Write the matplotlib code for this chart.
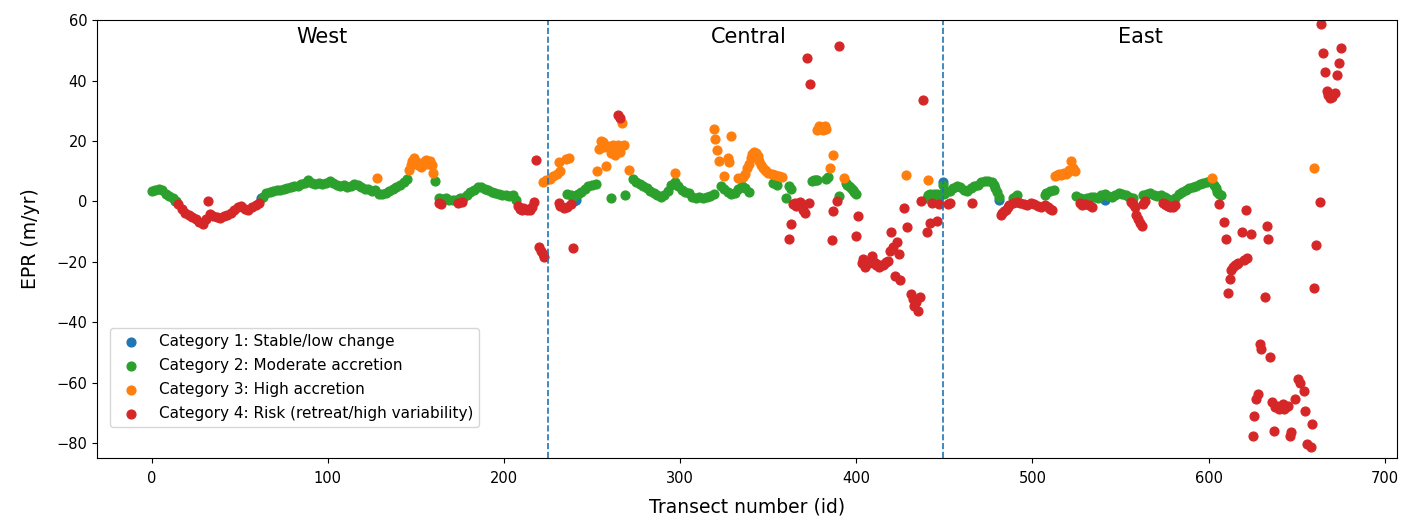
import numpy as np
import matplotlib
matplotlib.use("Agg")
import matplotlib.pyplot as plt

# EPR per transect, stored as runs: (first id, id step, values)
cat1_runs = [
    (13, 1, [0.0]), (62, 1, [1.0]), (240, 1, [0.0, 0.5]),
    (449, 1, [6.3]), (481, 1, [0.5]), (541, 1, [0.3]),
]

cat2_runs = [
    (0, 2, [3.4, 3.7, 4.0, 3.6, 2.6, 1.8, 1.0, 0.2]),
    (63, 2, [1.5, 2.8, 3.0, 3.3, 3.6, 3.8, 4.2, 4.5, 4.8, 5.2,
             5.0, 5.6, 6.2, 7.0, 6.2, 5.8, 6.0, 5.6, 6.2, 6.6,
             6.0, 5.4, 5.0, 5.4, 4.6, 5.0, 5.8, 5.4, 4.8, 4.2,
             4.0, 3.5, 3.6, 2.6, 2.4, 2.8, 3.4, 4.0, 4.6, 5.4,
             6.4, 7.4]),
    (161, 1, [6.6]),
    (163, 2, [1.0, 0.8, 1.2, 0.6, 0.3, 0.6, 1.0, 1.2, 2.0, 3.0,
              3.8, 4.8, 4.6, 4.0, 3.6, 3.2, 2.8, 2.4, 2.2, 2.0,
              1.8, 2.0, 0.6]),
    (236, 2, [2.5, 2.2, 1.8, 2.5, 3.2, 4.0, 5.0, 5.5, 5.8]),
    (261, 1, [1.0]), (269, 1, [2.0]),
    (273, 2, [7.5, 6.5, 5.8, 5.0, 4.3, 3.5, 2.8, 2.0, 1.6, 2.0,
              3.5, 5.5, 6.5, 5.0, 3.8, 3.0, 2.8, 1.6, 1.2, 1.6,
              1.0, 1.5, 1.7, 2.5]),
    (323, 2, [5.0, 4.0, 3.0, 2.5, 2.8, 4.0, 5.0, 4.5, 3.0]),
    (353, 2, [6.0, 5.5]),
    (360, 1, [1.2]), (362, 1, [5.0, 4.0]),
    (375, 1, [6.8, 7.2, 7.0, 7.0]),
    (383, 1, [7.5, 8.0]),
    (390, 1, [1.8]),
    (394, 1, [6.0, 5.5, 5.0, 4.5, 3.8, 3.0, 2.5]),
    (440, 1, [1.0, 2.0, 2.3, 1.5, 2.5, 2.0, 2.6, 1.8]),
    (448, 1, [2.5, 5.5, 2.5, 3.0]),
    (453, 2, [3.5, 4.5, 5.2, 4.8, 3.8, 3.3, 4.5, 5.0, 5.5, 6.3,
              6.8, 6.8, 6.5]),
    (478, 1, [5.5, 4.5, 3.0, 1.5]),
    (489, 1, [1.0, 1.5, 2.0]),
    (507, 1, [2.2, 2.8]),
    (510, 2, [3.3, 3.8]),
    (525, 2, [1.8, 1.2, 0.8, 1.0, 1.5, 1.6, 1.2, 2.0, 2.6, 1.8,
              1.4, 2.2, 2.8, 2.4, 2.0, 1.5, 1.0]),
    (563, 2, [2.0, 2.6, 2.8, 2.2, 1.8, 2.2, 1.6, 0.8]),
    (581, 2, [1.0, 2.4, 3.2, 3.8, 4.3, 4.8, 5.2, 5.6, 6.2, 6.5, 6.8]),
    (603, 1, [5.5, 4.5, 3.0, 2.5, 2.2]),
]

cat3_runs = [
    (128, 1, [7.8]),
    (146, 1, [10.5, 12.0, 13.5, 14.3, 13.0, 12.0, 12.6, 11.5, 12.2, 13.5,
              13.8, 12.5, 13.5, 12.0, 9.5]),
    (222, 2, [6.5, 7.0, 7.5, 8.3, 9.0]),
    (231, 1, [13.0, 10.0]), (235, 1, [14.0]), (237, 1, [14.2]),
    (253, 1, [10.0, 17.5, 20.0, 19.5, 18.0, 11.7, 18.3]),
    (261, 1, [16.0, 18.7, 15.5, 17.0, 18.7, 16.5, 26.0, 18.5]),
    (271, 1, [10.3]), (297, 1, [9.3]),
    (319, 1, [24.0, 20.5, 17.0, 13.5]),
    (325, 1, [8.3]), (327, 1, [14.3, 13.0, 21.8]),
    (333, 1, [7.8]), (336, 1, [8.0]),
    (337, 1, [9.0, 11.0, 12.5, 14.5, 15.8, 16.5, 16.0, 15.0, 13.5, 12.0,
              11.0, 10.5, 10.0, 9.5]),
    (352, 2, [9.2, 8.8, 8.5, 8.2]),
    (378, 1, [23.5, 25.0, 24.5, 23.5, 24.8, 23.8]),
    (385, 1, [11.0]), (387, 1, [15.5]), (393, 1, [7.8]),
    (428, 1, [8.8]), (441, 1, [7.0]),
    (513, 1, [8.5, 8.8, 9.0, 8.8, 9.2, 9.5, 9.0, 9.8, 10.5, 13.5, 11.0, 10.2]),
    (602, 1, [7.8]),
    (660, 1, [11.0]),
]

cat4_runs = [
    (15, 2, [-1.0, -2.5, -3.8, -4.6, -5.2, -5.8, -6.8, -7.6, -6.0]),
    (32, 1, [0.0]),
    (33, 2, [-4.2, -4.8, -5.3, -5.6, -5.0, -4.4, -3.8, -3.0, -1.8, -1.4,
             -2.4, -2.8, -2.0, -1.2, -0.6]),
    (163, 1, [-0.4, -0.8]),
    (174, 2, [-0.5, -0.3]),
    (208, 1, [-1.5, -2.5, -2.8, -2.3, -2.6, -2.9, -2.4, -2.7, -1.8, -0.2]),
    (218, 1, [13.8]),
    (220, 1, [-15.0, -16.5, -17.5, -18.5]),
    (231, 1, [-0.5, -1.5]),
    (234, 2, [-2.3, -2.0, -1.0]),
    (239, 1, [-15.5]),
    (265, 1, [28.5, 27.5]),
    (362, 1, [-12.3, -7.5, -1.0, -0.5, -1.5, -1.0, -0.3, -1.0, -3.0, -4.0]),
    (372, 1, [47.5, -0.7, 39.0]),
    (386, 1, [-12.7, -3.3]),
    (389, 1, [0.0, 51.5]),
    (400, 1, [-11.6, -4.7]),
    (403, 1, [-20.3, -19.0, -21.6]),
    (407, 1, [-20.5, -19.6, -18.0, -20.2, -21.0, -20.8, -21.6]),
    (415, 1, [-21.2, -20.6, -20.0, -19.6, -16.3, -10.0, -15.0, -24.6, -13.3,
              -17.3, -26.2]),
    (427, 1, [-2.3]), (429, 1, [-8.6]),
    (431, 1, [-30.6, -32.2, -34.6, -33.2, -36.2, -31.6, 0.0, 33.6]),
    (440, 1, [-10.3]), (442, 1, [-7.3, -0.7]),
    (446, 1, [-6.6, -1.0]),
    (452, 1, [-1.0, -0.5]), (466, 1, [-0.7]),
    (482, 1, [-4.5, -4.0, -3.3, -2.7, -2.0, -1.3]),
    (489, 2, [-0.5, -0.3, -0.5, -1.0, -1.3, -0.7, -1.0, -1.5, -1.8, -1.2, -2.0]),
    (510, 1, [-2.6, -3.0]),
    (527, 1, [-0.5, -1.2]),
    (530, 2, [-0.8, -1.3, -1.8]),
    (556, 1, [-0.2, -1.0, -2.0, -4.5, -6.0, -7.0, -8.0, -1.0, 0.0]),
    (574, 1, [-0.5, -0.8, -1.3, -1.6, -2.0, -1.5, -1.8, -1.2]),
    (606, 1, [-0.8]),
    (609, 1, [-6.7, -12.3, -30.3, -25.6, -22.8, -21.7, -21.0, -20.6, -20.3]),
    (619, 1, [-10.1, -19.5, -2.7, -18.7]),
    (624, 1, [-10.9, -77.6, -71.2, -65.4, -63.8, -47.2, -48.8]),
    (632, 1, [-31.7, -8.1, -12.3, -51.4, -66.5, -76.0, -68.2]),
    (639, 1, [-67.7, -68.8, -68.2, -67.2, -68.8, -68.0, -67.7, -77.8, -76.5]),
    (649, 1, [-65.4]),
    (651, 1, [-58.8, -60.0]),
    (654, 1, [-62.7, -69.3, -80.4]),
    (658, 1, [-81.2, -73.8, -28.7, -14.3]),
    (663, 1, [-0.1, 58.8, 49.2, 42.9, 36.4, 35.3, 34.2, 34.6]),
    (672, 1, [35.9, 41.8, 45.8, 50.8]),
]

labels = [
    "Category 1: Stable/low change",
    "Category 2: Moderate accretion",
    "Category 3: High accretion",
    "Category 4: Risk (retreat/high variability)",
]
colors = ["tab:blue", "tab:green", "tab:orange", "tab:red"]
region_names = ["West", "Central", "East"]
region_label_x = [96.5, 339, 561.5]
region_bounds = [224.8, 449]


def expand(runs):
    ids, vals = [], []
    for start, step, values in runs:
        for k, v in enumerate(values):
            ids.append(start + k * step)
            vals.append(v)
    return np.array(ids), np.array(vals)


fig, ax = plt.subplots(figsize=(14.12, 5.17), dpi=100)
fig.subplots_adjust(left=0.0687, right=0.9894, top=0.961, bottom=0.114)

for runs, lab, col in zip([cat1_runs, cat2_runs, cat3_runs, cat4_runs], labels, colors):
    x, y = expand(runs)
    ax.scatter(x, y, s=40, color=col, label=lab)

for b in region_bounds:
    ax.axvline(b, color="tab:blue", linestyle="--", linewidth=1.2)

for name, xpos in zip(region_names, region_label_x):
    ax.text(xpos, 54.5, name, ha="center", va="center", fontsize=15)

ax.set_xlim(-31, 707)
ax.set_ylim(-85, 60)
ax.set_xticks(np.arange(0, 701, 100))
ax.set_yticks(np.arange(-80, 61, 20))
ax.tick_params(labelsize=10.5)
ax.tick_params(axis="x", pad=6)
ax.set_xlabel("Transect number (id)", fontsize=13.5, labelpad=8)
ax.set_ylabel("EPR (m/yr)", fontsize=13.5, labelpad=12)

ax.legend(loc="lower left", bbox_to_anchor=(0.01, 0.07), borderaxespad=0,
          fontsize=11, labelspacing=0.6, scatterpoints=1)

plt.savefig("out.png", dpi=100)
